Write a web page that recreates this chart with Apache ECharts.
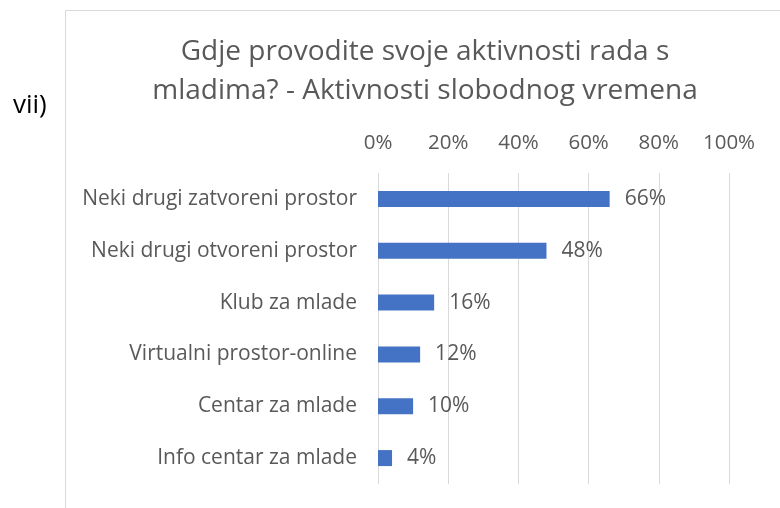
<!DOCTYPE html>
<html>
<head>
<meta charset="utf-8">
<script src="https://cdn.jsdelivr.net/npm/echarts@6/dist/echarts.min.js"></script>
<style>
  html, body { margin: 0; padding: 0; background: #fff; }
  #chart { width: 780px; height: 508px; }
</style>
</head>
<body>
<div id="chart"></div>
<script>
// categories top to bottom
const categories = [
  'Neki drugi zatvoreni prostor',
  'Neki drugi otvoreni prostor',
  'Klub za mlade',
  'Virtualni prostor-online',
  'Centar za mlade',
  'Info centar za mlade'
]
const values = [66, 48, 16, 12, 10, 4]
const titleLines = ['Gdje provodite svoje aktivnosti rada s', 'mladima? - Aktivnosti slobodnog vremena']

const font = 'Open Sans'
const textColor = '#595959'

const chart = echarts.init(document.getElementById('chart'))

const option = {
  animation: false,
  textStyle: { fontFamily: font },
  grid: {
    left: 378,
    right: 51,
    top: 173,
    bottom: 24,
    containLabel: false,
  },
  xAxis: {
    type: 'value',
    position: 'top',
    min: 0,
    max: 100,
    interval: 20,
    axisLine: { show: false },
    axisTick: { show: false },
    axisLabel: {
      formatter: '{value}%',
      fontSize: 20.5,
      color: textColor,
      fontFamily: font,
      margin: 19,
    },
    splitLine: { show: true, lineStyle: { color: '#d9d9d9', width: 1 } },
  },
  yAxis: {
    type: 'category',
    inverse: true,
    data: categories,
    axisLine: { show: false },
    axisTick: { show: false },
    axisLabel: {
      fontSize: 21,
      color: textColor,
      fontFamily: font,
      margin: 21,
    },
  },
  series: [
    {
      type: 'bar',
      data: values,
      barWidth: 16,
      itemStyle: { color: '#4472c4' },
      label: {
        show: true,
        position: 'right',
        distance: 15,
        formatter: '{c}%',
        fontSize: 21,
        color: textColor,
        fontFamily: font,
      },
    },
  ],
  graphic: [
    {
      type: 'rect',
      shape: { x: 65.5, y: 10.5, width: 800, height: 600 },
      style: { fill: null, stroke: '#d9d9d9', lineWidth: 1 },
      z: -1,
    },
    {
      type: 'text',
      x: 425,
      y: 52,
      style: {
        text: titleLines[0],
        font: '28px "Open Sans"',
        fill: textColor,
        textAlign: 'center',
        textVerticalAlign: 'middle',
      },
    },
    {
      type: 'text',
      x: 425,
      y: 91,
      style: {
        text: titleLines[1],
        font: '28px "Open Sans"',
        fill: textColor,
        textAlign: 'center',
        textVerticalAlign: 'middle',
      },
    },
    {
      type: 'text',
      x: 13,
      y: 106,
      style: {
        text: 'vii)',
        font: '26px "Open Sans"',
        fill: '#000',
        textAlign: 'left',
        textVerticalAlign: 'middle',
      },
    },
  ],
}

chart.setOption(option)
</script>
</body>
</html>
